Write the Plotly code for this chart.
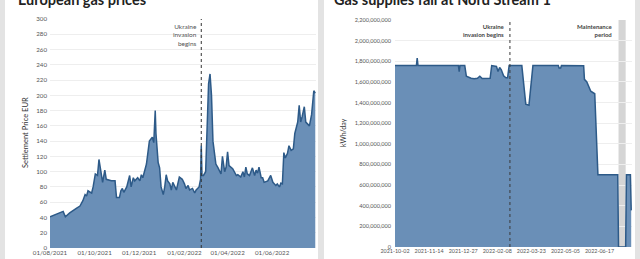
import plotly.graph_objects as go

# ---------------- Data: European gas prices (settlement price, EUR) ----------------
price_dates = [
    "2021-08-01", "2021-08-17", "2021-08-19", "2021-08-22", "2021-08-28", "2021-09-06",
    "2021-09-11", "2021-09-15", "2021-09-18", "2021-09-20", "2021-09-22", "2021-09-27",
    "2021-09-29", "2021-10-02", "2021-10-05", "2021-10-07", "2021-10-10", "2021-10-12",
    "2021-10-15", "2021-10-17", "2021-10-24", "2021-10-29", "2021-10-31", "2021-11-04",
    "2021-11-06", "2021-11-08", "2021-11-10", "2021-11-14", "2021-11-18", "2021-11-20",
    "2021-11-23", "2021-11-25", "2021-11-29", "2021-12-02", "2021-12-04", "2021-12-06",
    "2021-12-11", "2021-12-15", "2021-12-19", "2021-12-21", "2021-12-23", "2021-12-24",
    "2021-12-27", "2021-12-29", "2021-12-31", "2022-01-03", "2022-01-05", "2022-01-07",
    "2022-01-09", "2022-01-12", "2022-01-14", "2022-01-16", "2022-01-18", "2022-01-21",
    "2022-01-25", "2022-01-29", "2022-02-01", "2022-02-03", "2022-02-06", "2022-02-08",
    "2022-02-12", "2022-02-15", "2022-02-17", "2022-02-21", "2022-02-23", "2022-02-24",
    "2022-02-25", "2022-02-27", "2022-03-02", "2022-03-04", "2022-03-06", "2022-03-08",
    "2022-03-10", "2022-03-12", "2022-03-14", "2022-03-16", "2022-03-19", "2022-03-21",
    "2022-03-23", "2022-03-25", "2022-03-28", "2022-03-30", "2022-04-01", "2022-04-03",
    "2022-04-08", "2022-04-13", "2022-04-15", "2022-04-19", "2022-04-22", "2022-04-24",
    "2022-04-26", "2022-04-28", "2022-05-01", "2022-05-05", "2022-05-08", "2022-05-10",
    "2022-05-12", "2022-05-14", "2022-05-17", "2022-05-19", "2022-05-21", "2022-05-26",
    "2022-05-28", "2022-05-30", "2022-06-02", "2022-06-06", "2022-06-08", "2022-06-11",
    "2022-06-13", "2022-06-15", "2022-06-17", "2022-06-19", "2022-06-22", "2022-06-24",
    "2022-06-27", "2022-06-30", "2022-07-02", "2022-07-06", "2022-07-08", "2022-07-10",
    "2022-07-12", "2022-07-15", "2022-07-17", "2022-07-19", "2022-07-22", "2022-07-25",
    "2022-07-27", "2022-07-28", "2022-07-30",
]
price_values = [
    41, 47, 48, 41, 46, 52,
    55, 62, 70, 68, 75, 72,
    80, 97, 95, 116, 96, 86,
    102, 90, 88, 88, 66, 66,
    75, 78, 73, 80, 95, 80,
    92, 88, 92, 88, 96, 92,
    110, 140, 145, 138, 180, 150,
    112, 105, 80, 70, 80, 96,
    88, 84, 76, 86, 82, 76,
    93, 90, 84, 78, 82, 76,
    78, 72, 76, 80, 90, 134,
    95, 95, 100, 166, 215, 228,
    200, 140, 128, 110, 105, 100,
    97, 120, 100, 106, 126, 108,
    104, 95, 96, 93, 100, 93,
    106, 97, 95, 105, 95, 102,
    98, 106, 92, 92, 86, 88,
    92, 95, 86, 82, 84, 80,
    85, 84, 125, 118, 124, 134,
    128, 130, 150, 165, 187, 165,
    172, 185, 165, 163, 160, 175,
    195, 206, 203,
]
left_tick_vals = ["2021-08-01", "2021-10-01", "2021-12-01", "2022-02-01", "2022-04-01", "2022-06-01"]
left_tick_text = ["01/08/2021", "01/10/2021", "01/12/2021", "01/02/2022", "01/04/2022", "01/06/2022"]

# ---------------- Data: Nord Stream 1 flows (kWh/day) ----------------
flow_dates = [
    "2021-10-02", "2021-10-29", "2021-10-30", "2021-10-31", "2021-12-21", "2021-12-22",
    "2021-12-23", "2021-12-29", "2021-12-31", "2022-01-03", "2022-01-06", "2022-01-10",
    "2022-01-14", "2022-01-17", "2022-01-20", "2022-01-30", "2022-02-01", "2022-02-07",
    "2022-02-09", "2022-02-11", "2022-02-13", "2022-02-16", "2022-02-19", "2022-02-21",
    "2022-02-23", "2022-03-11", "2022-03-13", "2022-03-16", "2022-03-20", "2022-03-23",
    "2022-03-25", "2022-04-26", "2022-04-27", "2022-04-29", "2022-04-30", "2022-05-28",
    "2022-05-29", "2022-06-01", "2022-06-06", "2022-06-11", "2022-06-13", "2022-06-15",
    "2022-07-10", "2022-07-11", "2022-07-20", "2022-07-21", "2022-07-26", "2022-07-27",
]
flow_values = [
    1.758e9, 1.758e9, 1.83e9, 1.758e9, 1.758e9, 1.70e9,
    1.758e9, 1.758e9, 1.655e9, 1.645e9, 1.635e9, 1.630e9,
    1.635e9, 1.655e9, 1.632e9, 1.635e9, 1.758e9, 1.750e9,
    1.700e9, 1.740e9, 1.720e9, 1.660e9, 1.640e9, 1.640e9,
    1.758e9, 1.758e9, 1.60e9, 1.385e9, 1.375e9, 1.60e9,
    1.758e9, 1.758e9, 1.735e9, 1.735e9, 1.758e9, 1.756e9,
    1.625e9, 1.600e9, 1.510e9, 1.485e9, 1.00e9, 0.700e9,
    0.700e9, 0.0, 0.0, 0.700e9, 0.700e9, 0.355e9,
]
right_tick_vals = ["2021-10-02", "2021-11-14", "2021-12-27", "2022-02-08", "2022-03-23", "2022-05-05", "2022-06-17"]
right_tick_text = right_tick_vals

invasion_date = "2022-02-24"
maintenance_start = "2022-07-11"
maintenance_end = "2022-07-20"

W, H = 640, 259
FILL = "#6a8fb7"
LINE = "#2d5a88"
FONT = "Lato"
TICKCOL = "#555555"

fig = go.Figure()
fig.add_trace(go.Scatter(x=price_dates, y=price_values, mode="lines", fill="tozeroy",
                         fillcolor=FILL, line=dict(color=LINE, width=1.5),
                         xaxis="x", yaxis="y", hoverinfo="skip"))
fig.add_trace(go.Scatter(x=flow_dates, y=flow_values, mode="lines", fill="tozeroy",
                         fillcolor=FILL, line=dict(color=LINE, width=1.5),
                         xaxis="x2", yaxis="y2", hoverinfo="skip"))

px = lambda v: v / W
py = lambda v: 1 - v / H

shapes = [
    dict(type="rect", xref="paper", yref="paper", x0=px(5), x1=px(318), y0=0, y1=1.1,
         fillcolor="white", line=dict(width=0), layer="below"),
    dict(type="rect", xref="paper", yref="paper", x0=px(324), x1=px(635), y0=0, y1=1.1,
         fillcolor="white", line=dict(width=0), layer="below"),
    dict(type="rect", xref="x2", yref="y2 domain", x0=maintenance_start, x1=maintenance_end,
         y0=0, y1=1, fillcolor="#d5d5d5", line=dict(width=0), layer="below"),
    dict(type="line", xref="x", yref="y domain", x0=invasion_date, x1=invasion_date, y0=0, y1=1,
         line=dict(color="#333333", width=1, dash="dot"), layer="above"),
    dict(type="line", xref="x2", yref="y2 domain", x0=invasion_date, x1=invasion_date, y0=0, y1=1,
         line=dict(color="#3a3a3a", width=1, dash="dot"), layer="above"),
]

annotations = [
    dict(text="<b>European gas prices</b>", xref="paper", yref="paper", x=px(16), y=py(9.5),
         xanchor="left", yanchor="bottom", showarrow=False,
         font=dict(family=FONT, size=14.5, color="#222222")),
    dict(text="<b>Gas supplies fall at Nord Stream 1</b>", xref="paper", yref="paper", x=px(332), y=py(9.5),
         xanchor="left", yanchor="bottom", showarrow=False,
         font=dict(family=FONT, size=14.5, color="#222222")),
    dict(text="Ukraine<br>invasion<br>begins", xref="x", yref="paper", x=invasion_date, y=py(21),
         xanchor="right", yanchor="top", xshift=-2, showarrow=False, align="right",
         font=dict(family=FONT, size=6.5, color="#555555")),
    dict(text="<b>Ukraine<br>invasion begins</b>", xref="x2", yref="paper", x=invasion_date, y=py(21),
         xanchor="right", yanchor="top", xshift=-3, showarrow=False, align="right",
         font=dict(family=FONT, size=6, color="#444444")),
    dict(text="<b>Maintenance<br>period</b>", xref="paper", yref="paper", x=px(615), y=py(21),
         xanchor="right", yanchor="top", showarrow=False, align="right",
         font=dict(family=FONT, size=6, color="#444444")),
    dict(text="Settlement Price EUR", xref="paper", yref="paper", x=px(25), y=py(133),
         xanchor="center", yanchor="middle", textangle=-90, showarrow=False,
         font=dict(family=FONT, size=7.5, color="#333333")),
    dict(text="kWh/day", xref="paper", yref="paper", x=px(343), y=py(133),
         xanchor="center", yanchor="middle", textangle=-90, showarrow=False,
         font=dict(family=FONT, size=7, color="#333333")),
]

fig.update_layout(
    width=W, height=H, margin=dict(l=0, r=0, t=0, b=0, pad=0, autoexpand=False),
    paper_bgcolor="#e3e3e3", plot_bgcolor="white", showlegend=False,
    font=dict(family=FONT),
    shapes=shapes, annotations=annotations,
    xaxis=dict(domain=[px(50), px(316)], range=["2021-08-01", "2022-07-31"],
               tickvals=left_tick_vals, ticktext=left_tick_text, showgrid=False,
               tickfont=dict(size=6.2, color=TICKCOL), ticks="", showline=False,
               zeroline=False, anchor="y", fixedrange=True, automargin=False),
    yaxis=dict(domain=[py(248), py(19)], range=[0, 300], dtick=20, tick0=0,
               showgrid=True, gridcolor="#eeeeee", gridwidth=1, zeroline=False,
               tickfont=dict(size=6.2, color=TICKCOL), ticks="", anchor="x",
               ticklabelstandoff=2, fixedrange=True, automargin=False),
    xaxis2=dict(domain=[px(395), px(632)], range=["2021-10-02", "2022-07-28"],
                tickvals=right_tick_vals, ticktext=right_tick_text, showgrid=False,
                tickfont=dict(size=5.4, color=TICKCOL), ticks="", showline=False,
                zeroline=False, anchor="y2", fixedrange=True, automargin=False),
    yaxis2=dict(domain=[py(247), py(20)], range=[0, 2.2e9], dtick=2e8, tick0=0,
                tickformat=",d", showgrid=True, gridcolor="#eeeeee", gridwidth=1,
                zeroline=False, tickfont=dict(size=5.6, color=TICKCOL), ticks="",
                anchor="x2", ticklabelstandoff=3, fixedrange=True, automargin=False),
)

fig.write_html("out.html")
